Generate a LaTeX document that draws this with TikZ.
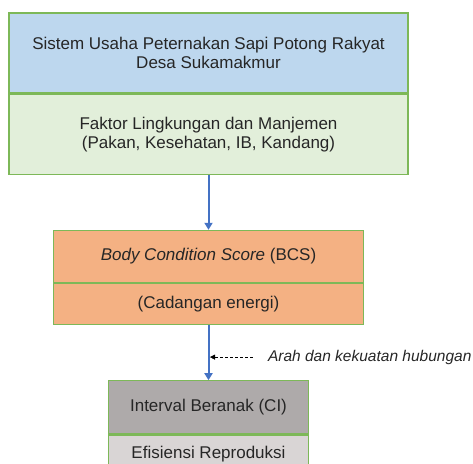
\documentclass[tikz,border=0pt]{standalone}
\usepackage{fontspec}
\setmainfont{Liberation Sans}
\usetikzlibrary{arrows.meta,positioning,calc}

\definecolor{boxline}{HTML}{7DB858}
\definecolor{sistemfill}{HTML}{BDD7EE}
\definecolor{faktorfill}{HTML}{E2EFDA}
\definecolor{bcsfill}{HTML}{F4B183}
\definecolor{cifill}{HTML}{AEAAAA}
\definecolor{efffill}{HTML}{D9D5D5}
\definecolor{flowblue}{HTML}{4472C4}

\tikzset{
  box/.style={draw=boxline, line width=1.2pt, align=center, inner sep=0pt,
    font=\fontsize{17}{19}\selectfont, text=black!85},
  flow/.style={-{Triangle[length=7pt,width=8pt]}, draw=flowblue, line width=2pt},
  hint/.style={-{Triangle[length=5pt,width=5pt]}, thin, black, dash pattern=on 3pt off 2pt}
}

\begin{document}
\begin{tikzpicture}[x=1pt, y=-1pt, node distance=0pt]
\useasboundingbox (0,0) rectangle (473,463);

% Top block
\node[box, fill=sistemfill, minimum width=399pt, minimum height=80pt] (sistem) at (208.5,53)
  {Sistem Usaha Peternakan Sapi Potong Rakyat\\Desa Sukamakmur};
\node[box, fill=faktorfill, minimum width=399pt, minimum height=80pt, below=of sistem] (faktor)
  {Faktor Lingkungan dan Manjemen\\(Pakan, Kesehatan, IB, Kandang)};

% BCS block
\node[box, fill=bcsfill, minimum width=310pt, minimum height=52pt, below=55pt of faktor] (bcs)
  {\textit{Body Condition Score} (BCS)};
\node[box, fill=bcsfill, minimum width=310pt, minimum height=41pt, below=of bcs] (cadangan)
  {(Cadangan energi)};

% CI block
\node[box, fill=cifill, minimum width=200pt, minimum height=53pt, below=55pt of cadangan] (interval)
  {Interval Beranak (CI)};
\node[box, fill=efffill, minimum width=200pt, minimum height=38pt, below=of interval] (efisiensi)
  {Efisiensi Reproduksi};

% Arrows
\draw[flow] (faktor.south) -- (bcs.north);
\draw[flow] (cadangan.south) -- (interval.north);

% Legend note
\coordinate (mid) at ($(cadangan.south)!0.58!(interval.north)$);
\node[right=56pt of mid, font=\fontsize{15.5}{17}\selectfont\itshape, text=black!85] (arah)
  {Arah dan kekuatan hubungan};
\draw[hint, shorten <=12pt, shorten >=1.5pt] (arah.west) -- (mid);
\end{tikzpicture}
\end{document}
